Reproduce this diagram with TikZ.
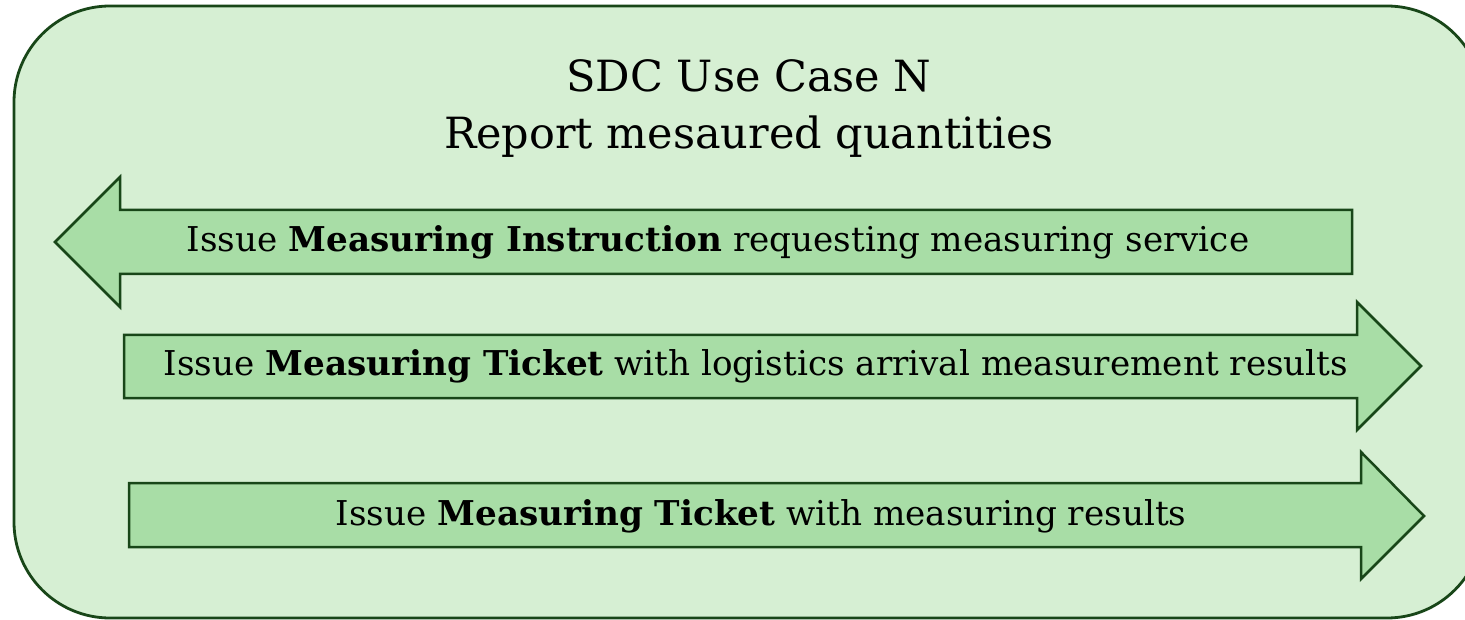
\documentclass[tikz,border=0pt]{standalone}
\usepackage{fontspec}
\setmainfont{DejaVu Serif}
\usepackage{tikz}
\definecolor{panelfill}{RGB}{214,239,211}
\definecolor{arrowfill}{RGB}{168,221,166}
\definecolor{edgegreen}{RGB}{24,70,24}
\tikzset{
	panel/.style={draw=edgegreen,fill=panelfill,line width=2.8pt,rounded corners=96pt},
	flowarrow/.style={draw=edgegreen,fill=arrowfill,line width=2.5pt,line join=miter},
	arrowtext/.style={inner sep=0pt,font=\fontsize{34.2}{40}\selectfont},
	titletext/.style={inner sep=0pt,font=\fontsize{43}{57}\selectfont,align=center}
}

\begin{document}
\begin{tikzpicture}[x=1pt,y=-1pt]
	\useasboundingbox (0,0) rectangle (1465,620);
	\begin{scope}
		\draw[panel] (14,6) rectangle (1483,618);

		\node[titletext] (title) at (749,108.5) {SDC Use Case N\\Report mesaured quantities};

		% request going out
		\draw[flowarrow] (1352,210) -- (120,210) -- (120,177) -- (55,242) -- (120,307) -- (120,274) -- (1352,274) -- cycle;
		\node[arrowtext] (instruction) at (718,242) {Issue \textbf{Measuring Instruction} requesting measuring service};

		% tickets coming back
		\draw[flowarrow] (124,335) -- (1357,335) -- (1357,302) -- (1421,366) -- (1357,430) -- (1357,398) -- (124,398) -- cycle;
		\node[arrowtext] (arrival) at (756,366) {Issue \textbf{Measuring Ticket} with logistics arrival measurement results};

		\draw[flowarrow] (129,483) -- (1361,483) -- (1361,452) -- (1424,516) -- (1361,579) -- (1361,547) -- (129,547) -- cycle;
		\node[arrowtext] (results) at (761,516) {Issue \textbf{Measuring Ticket} with measuring results};
	\end{scope}
\end{tikzpicture}
\end{document}
